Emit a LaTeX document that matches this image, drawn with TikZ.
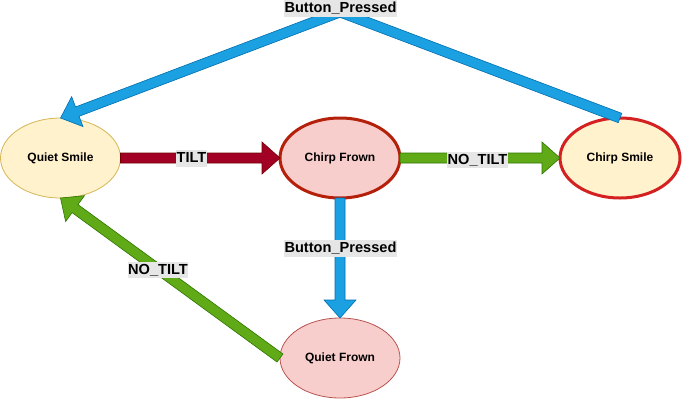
\documentclass[tikz,border=0pt]{standalone}
\usepackage{fontspec}
\setmainfont{Liberation Sans}
\usetikzlibrary{shapes.geometric,calc}
\definecolor{ylwfill}{HTML}{FFF2CC}
\definecolor{ylwdraw}{HTML}{D6B656}
\definecolor{pinkfill}{HTML}{F8CECC}
\definecolor{pinkdraw}{HTML}{B85450}
\definecolor{cfdraw}{HTML}{B4200A}
\definecolor{csdraw}{HTML}{D42020}
\definecolor{tiltfill}{HTML}{A20025}
\definecolor{tiltdraw}{HTML}{6F0000}
\definecolor{grnfill}{HTML}{60A917}
\definecolor{grndraw}{HTML}{2D7600}
\definecolor{blufill}{HTML}{1BA1E2}
\definecolor{bludraw}{HTML}{006EAF}
\definecolor{lblbg}{HTML}{E6E6E6}

\newcommand\blockarrow[3]{%
  \coordinate (baA) at (#2);
  \coordinate (baB) at (#3);
  \coordinate (baH) at ($(baB)!18pt!(baA)$);
  \draw[#1] ($(baA)!5pt!90:(baB)$) -- ($(baH)!5pt!90:(baB)$) -- ($(baH)!16pt!90:(baB)$)
    -- (baB) -- ($(baH)!16pt!-90:(baB)$) -- ($(baH)!5pt!-90:(baB)$)
    -- ($(baA)!5pt!-90:(baB)$) -- cycle;
}

\tikzset{
  state/.style={ellipse, minimum width=120pt, minimum height=80pt, inner sep=0pt,
    outer sep=0pt, font=\fontsize{12}{14}\selectfont\bfseries},
  quiet/.style={state, line width=0.8pt},
  chirp/.style={state, line width=3pt},
  lbl/.style={fill=lblbg, inner xsep=0.5pt, inner ysep=0pt, text height=12.3pt,
    text depth=4.2pt, font=\fontsize{14.6}{16}\selectfont\bfseries},
  redarrow/.style={fill=tiltfill, draw=tiltdraw, line width=0.6pt, line join=miter},
  grnarrow/.style={fill=grnfill, draw=grndraw, line width=0.6pt, line join=miter},
  bluarrow/.style={fill=blufill, draw=bludraw, line width=0.6pt, line join=miter},
}

\begin{document}
\begin{tikzpicture}[x=1pt, y=-1pt]
\useasboundingbox (0,0) rectangle (683,400);

\node[quiet, fill=ylwfill, draw=ylwdraw] (qs) at (60.5,158) {Quiet Smile};
\node[chirp, fill=pinkfill, draw=cfdraw] (cf) at (340,158) {Chirp Frown};
\node[chirp, fill=ylwfill, draw=csdraw] (cs) at (620,158) {Chirp Smile};
\node[quiet, fill=pinkfill, draw=pinkdraw] (qf) at (340,358) {Quiet Frown};

% straight arrows
\blockarrow{redarrow}{qs.east}{cf.west}
\blockarrow{grnarrow}{cf.east}{cs.west}
\blockarrow{bluarrow}{cf.south}{qf.north}
\blockarrow{grnarrow}{qf.west}{qs.south}

% bent arrow over the top
\coordinate (peak) at (340,12);
\coordinate (S) at (cs.north);
\coordinate (E) at (qs.north);
\coordinate (Hh) at ($(E)!18pt!(peak)$);
\coordinate (L1) at ($(S)!5pt!90:(peak)$);
\coordinate (L2) at ($(peak)!5pt!-90:(S)$);
\coordinate (L3) at ($(peak)!5pt!90:(E)$);
\coordinate (L4) at ($(Hh)!5pt!90:(E)$);
\coordinate (R1) at ($(S)!5pt!-90:(peak)$);
\coordinate (R2) at ($(peak)!5pt!90:(S)$);
\coordinate (R3) at ($(peak)!5pt!-90:(E)$);
\coordinate (R4) at ($(Hh)!5pt!-90:(E)$);
\coordinate (ML) at (intersection of L1--L2 and L3--L4);
\coordinate (MR) at (intersection of R1--R2 and R3--R4);
\draw[bluarrow] (L1) -- (ML) -- (L4) -- ($(Hh)!16pt!90:(E)$) -- (E)
  -- ($(Hh)!16pt!-90:(E)$) -- (R4) -- (MR) -- (R1) -- cycle;

% labels
\node[lbl] (l1) at (191.5,158.5) {TILT};
\node[lbl] (l2) at (477.5,160) {NO\_TILT};
\node[lbl] (l3) at (340.5,248.5) {Button\_Pressed};
\node[lbl] (l4) at (158,270) {NO\_TILT};
\node[lbl] (l5) at (340.5,8.5) {Button\_Pressed};
\end{tikzpicture}
\end{document}
